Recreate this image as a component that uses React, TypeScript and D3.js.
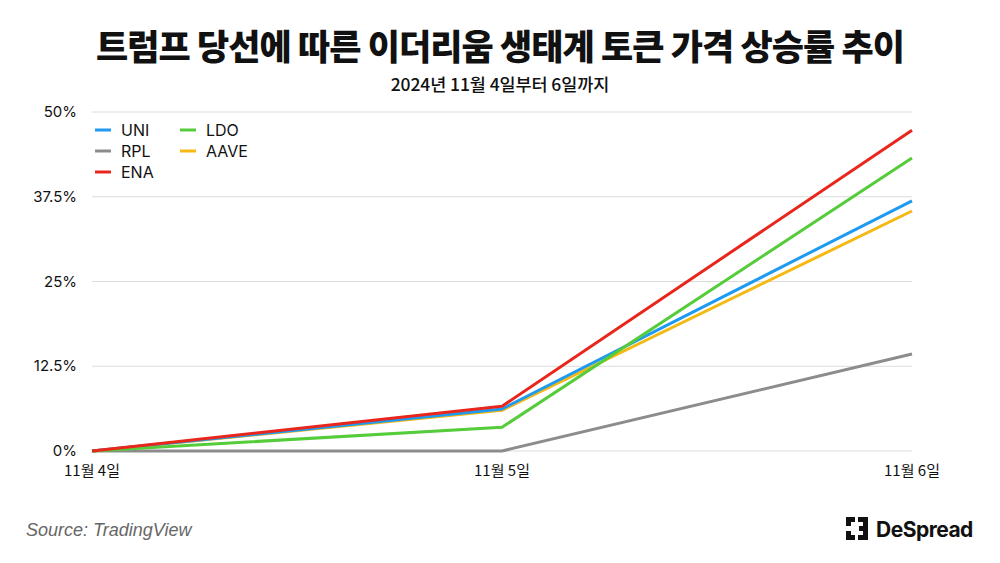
import React, { useEffect, useRef } from 'react';
import * as d3 from 'd3';

// chart data
const dates = ['11월 4일', '11월 5일', '11월 6일'];
const seriesNames = ['UNI', 'RPL', 'ENA', 'LDO', 'AAVE'];
const seriesColors = ['#1e9bf0', '#8c8c8c', '#e8261c', '#55cc3a', '#f5b914'];
const uniValues = [0, 6.2, 36.9];
const rplValues = [0, 0, 14.3];
const enaValues = [0, 6.6, 47.3];
const ldoValues = [0, 3.5, 43.2];
const aaveValues = [0, 6.0, 35.4];
const yTicks = [0, 12.5, 25, 37.5, 50];
const yTickLabels = ['0%', '12.5%', '25%', '37.5%', '50%'];

const App = () => {
  const svgRef = useRef<SVGSVGElement>(null);

  useEffect(() => {
    const width = 1000;
    const height = 563;
    const margin = { top: 112, right: 88, bottom: 112, left: 92 };
    const font = "'Noto Sans CJK KR', 'Noto Sans', sans-serif";
    const latin = "'Inter', 'Noto Sans', sans-serif";

    d3.select(svgRef.current).selectAll('*').remove();

    const svg = d3.select(svgRef.current)
      .attr('width', width)
      .attr('height', height)
      .style('display', 'block')
      .style('background', '#fff');

    const x = d3.scalePoint<string>()
      .domain(dates)
      .range([margin.left, width - margin.right]);

    const y = d3.scaleLinear()
      .domain([0, 50])
      .range([height - margin.bottom, margin.top]);

    // title
    svg.append('text')
      .attr('x', width / 2)
      .attr('y', 60)
      .attr('text-anchor', 'middle')
      .style('font-family', font)
      .style('font-size', '35px')
      .style('font-weight', 900)
      .style('letter-spacing', '-0.9px')
      .attr('fill', '#111')
      .text('트럼프 당선에 따른 이더리움 생태계 토큰 가격 상승률 추이');

    svg.append('text')
      .attr('x', width / 2)
      .attr('y', 91)
      .attr('text-anchor', 'middle')
      .style('font-family', font)
      .style('font-size', '17.5px')
      .style('font-weight', 500)
      .style('letter-spacing', '-0.1px')
      .attr('fill', '#111')
      .text('2024년 11월 4일부터 6일까지');

    // gridlines
    svg.append('g')
      .selectAll('line')
      .data(yTicks)
      .join('line')
      .attr('x1', margin.left)
      .attr('x2', width - margin.right)
      .attr('y1', d => y(d))
      .attr('y2', d => y(d))
      .attr('stroke', '#dcdcdc')
      .attr('stroke-width', 1);

    // y labels
    svg.append('g')
      .selectAll('text')
      .data(yTicks)
      .join('text')
      .attr('x', 77)
      .attr('y', d => y(d) + 5)
      .attr('text-anchor', 'end')
      .style('font-family', latin)
      .style('font-size', '15px')
      .attr('fill', '#111')
      .text((d, i) => yTickLabels[i]);

    // x labels
    svg.append('g')
      .selectAll('text')
      .data(dates)
      .join('text')
      .attr('x', d => x(d)!)
      .attr('y', 476)
      .attr('text-anchor', 'middle')
      .style('font-family', font)
      .style('font-size', '15px')
      .attr('fill', '#111')
      .text(d => d);

    // lines (draw order so red on top like reference)
    const allValues = [uniValues, rplValues, enaValues, ldoValues, aaveValues];
    const drawOrder = [1, 4, 0, 3, 2];
    const line = d3.line<number>()
      .x((d, i) => x(dates[i])!)
      .y(d => y(d));

    drawOrder.forEach(i => {
      svg.append('path')
        .datum(allValues[i])
        .attr('d', line)
        .attr('fill', 'none')
        .attr('stroke', seriesColors[i])
        .attr('stroke-width', 3)
        .attr('stroke-linejoin', 'round');
    });

    // legend
    const legendPos = [[95, 130], [95, 151], [95, 172], [180, 130], [180, 151]];
    const legend = svg.append('g');
    seriesNames.forEach((name, i) => {
      const [lx, ly] = legendPos[i];
      legend.append('line')
        .attr('x1', lx)
        .attr('x2', lx + 16)
        .attr('y1', ly)
        .attr('y2', ly)
        .attr('stroke', seriesColors[i])
        .attr('stroke-width', 3);
      legend.append('text')
        .attr('x', lx + 26)
        .attr('y', ly + 6)
        .style('font-family', latin)
        .style('font-size', '16px')
        .attr('fill', '#111')
        .text(name);
    });

    // source
    svg.append('text')
      .attr('x', 26)
      .attr('y', 536)
      .style('font-family', "'Liberation Sans', Arial, sans-serif")
      .style('font-size', '18px')
      .style('font-style', 'italic')
      .attr('fill', '#666')
      .text('Source: TradingView');

    // logo
    const logo = svg.append('g').attr('transform', 'translate(846,517)');
    logo.append('path')
      .attr('d', 'M0,0 H9 V5 H5 V9 H0 Z M0,14 H5 V18 H9 V23 H0 Z M12,0 H22 V23 H12 V18 H17 V14 H13 V9 H17 V5 H12 Z')
      .attr('fill', '#111');
    svg.append('text')
      .attr('x', 876)
      .attr('y', 537)
      .style('font-family', latin)
      .style('font-size', '21px')
      .style('font-weight', 700)
      .style('letter-spacing', '-0.5px')
      .attr('fill', '#111')
      .text('DeSpread');
  }, []);

  return <svg ref={svgRef} style={{ position: 'absolute', left: 0, top: 0 }}></svg>;
};

export default App;
